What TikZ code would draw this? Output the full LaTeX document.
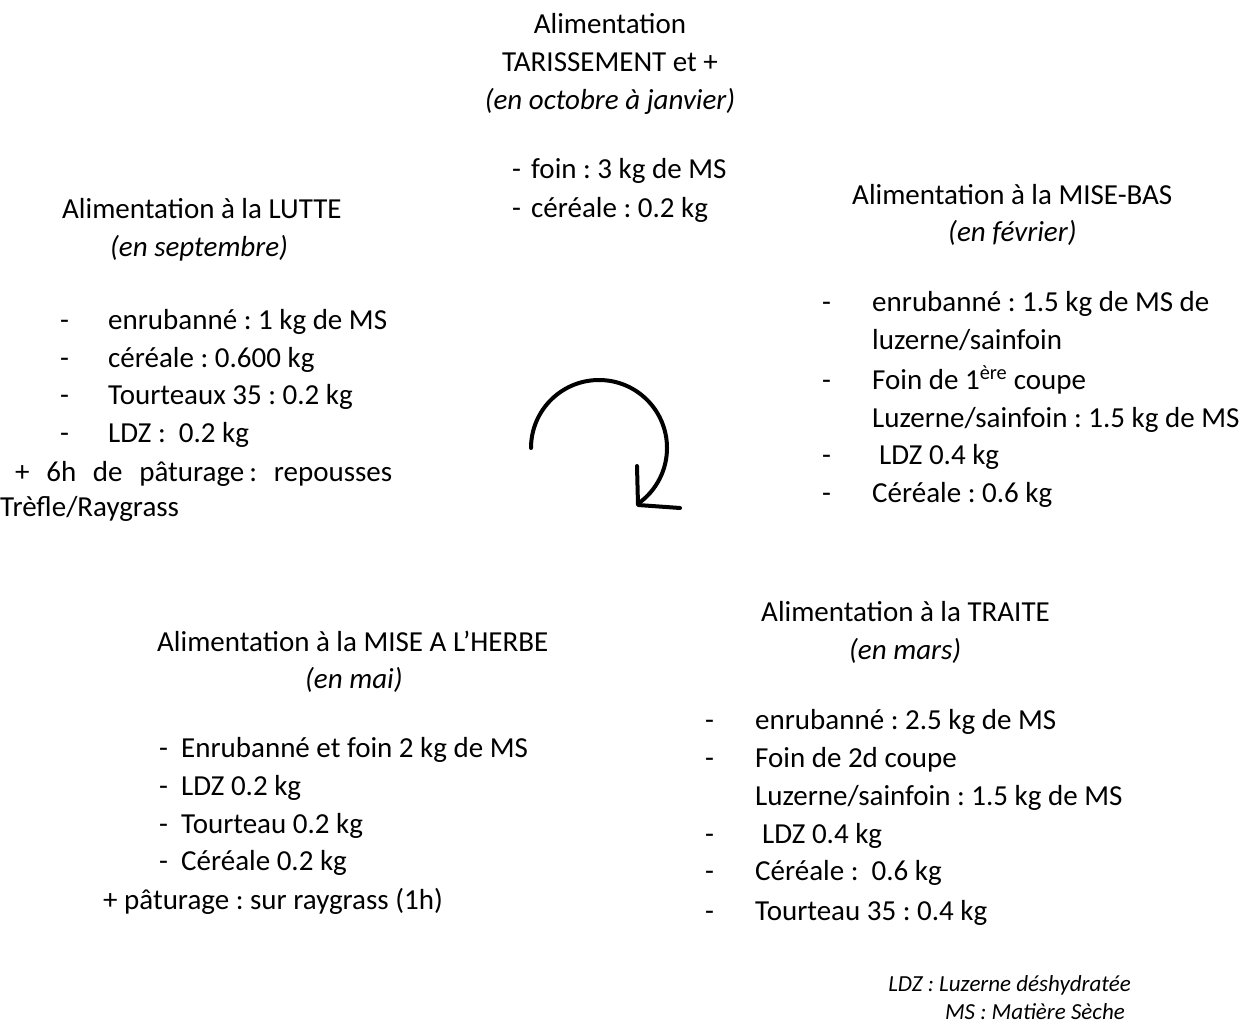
\documentclass[tikz,border=0pt]{standalone}
\usepackage{fontspec}
\setmainfont{Carlito}
\frenchspacing
\newcommand{\bodyfont}{\fontsize{29}{38}\selectfont}
\newcommand{\notefont}{\fontsize{23}{28}\selectfont\itshape}
\begin{document}
\begin{tikzpicture}[x=1pt,y=-1pt,
  lw/.style={anchor=base west, inner sep=0pt, font=\bodyfont},
  lc/.style={anchor=base, inner sep=0pt, font=\bodyfont},
  le/.style={anchor=base east, inner sep=0pt, font=\notefont},
  it/.style={font=\bodyfont\itshape},
  dsh/.style={anchor=base west, inner sep=0pt, font=\bodyfont},
  cyc/.style={line width=4pt, line cap=round, line join=round}]
\useasboundingbox (0,0) rectangle (1247,1024);
% Top
\node[lc] (t1) at (610,34) {Alimentation};
\node[lc] (t2) at (610,72) {TARISSEMENT et +};
\node[lc,it] (t3) at (610,110) {(en octobre à janvier)};
\node[dsh] (td1) at (512,179) {-};
\node[lw] (ti1) at (531,179) {foin : 3 kg de MS};
\node[dsh] (td2) at (512,218) {-};
\node[lw] (ti2) at (531,218) {céréale : 0.2 kg};
% Left
\node[lw] (l1) at (62,219) {Alimentation à la LUTTE};
\node[lw,it] (l2) at (110,257) {(en septembre)};
\foreach \y/\t [count=\i] in {329/{enrubanné : 1 kg de MS},367/{céréale : 0.600 kg},404/{Tourteaux 35 : 0.2 kg},442/{LDZ :\ \ 0.2 kg}}{
  \node[dsh] (ld\i) at (60,\y) {-};
  \node[lw] (li\i) at (108,\y) {\t};
}
\node[lw] (l3) at (15,481) {\makebox[377pt][s]{+ 6h de pâturage\kern5pt: repousses}};
\node[lw] (l4) at (0,516) {Trèfle/Raygrass};
% Right (mise-bas)
\node[lw] (r1) at (852,205) {Alimentation à la MISE-BAS};
\node[lw,it] (r2) at (948,242) {(en février)};
\node[dsh] (rd1) at (822,312) {-};
\node[lw] (ri1) at (872,312) {enrubanné : 1.5 kg de MS de};
\node[lw] (ri1b) at (872,349) {luzerne/sainfoin};
\node[dsh] (rd2) at (822,389) {-};
\node[lw] (ri2) at (872,389) {Foin de 1\textsuperscript{ère} coupe};
\node[lw] (ri2b) at (872,427) {Luzerne/sainfoin : 1.5 kg de MS};
\node[dsh] (rd3) at (822,464) {-};
\node[lw] (ri3) at (879,464) {LDZ 0.4 kg};
\node[dsh] (rd4) at (822,502) {-};
\node[lw] (ri4) at (872,502) {Céréale : 0.6 kg};
% Bottom left (mise à l'herbe)
\node[lw] (b1) at (157,651) {Alimentation à la MISE A L’HERBE};
\node[lw,it] (b2) at (305,688) {(en mai)};
\foreach \y/\t [count=\i] in {757/{Enrubanné et foin 2 kg de MS},795/{LDZ 0.2 kg},833/{Tourteau 0.2 kg},870/{Céréale 0.2 kg}}{
  \node[dsh] (bd\i) at (159,\y) {-};
  \node[lw] (bi\i) at (181,\y) {\t};
}
\node[lw] (b3) at (103,909) {+ pâturage : sur raygrass (1h)};
% Bottom right (traite)
\node[lw] (s1) at (761,621) {Alimentation à la TRAITE};
\node[lw,it] (s2) at (849,659) {(en mars)};
\node[dsh] (sd1) at (705,729) {-};
\node[lw] (si1) at (755,729) {enrubanné : 2.5 kg de MS};
\node[dsh] (sd2) at (705,767) {-};
\node[lw] (si2) at (755,767) {Foin de 2d coupe};
\node[lw] (si2b) at (755,805) {Luzerne/sainfoin : 1.5 kg de MS};
\node[dsh] (sd3) at (705,843) {-};
\node[lw] (si3) at (762,843) {LDZ 0.4 kg};
\node[dsh] (sd4) at (705,880) {-};
\node[lw] (si4) at (755,880) {Céréale :\ \ 0.6 kg};
\node[dsh] (sd5) at (705,920) {-};
\node[lw] (si5) at (755,920) {Tourteau 35 : 0.4 kg};
% Notes
\node[le] (n1) at (1131,991) {LDZ : Luzerne déshydratée};
\node[le] (n2) at (1125,1019) {MS : Matière Sèche};
% Cycle arrow
\coordinate (cs) at (531,448);
\coordinate (ce) at (638,505);
\coordinate (ch1) at (637,466);
\coordinate (ch2) at (680,508);
\draw[cyc] (cs) arc[start angle=180, end angle=414, radius=68];
\draw[cyc] (ch1) -- (ce) -- (ch2);
\end{tikzpicture}
\end{document}
